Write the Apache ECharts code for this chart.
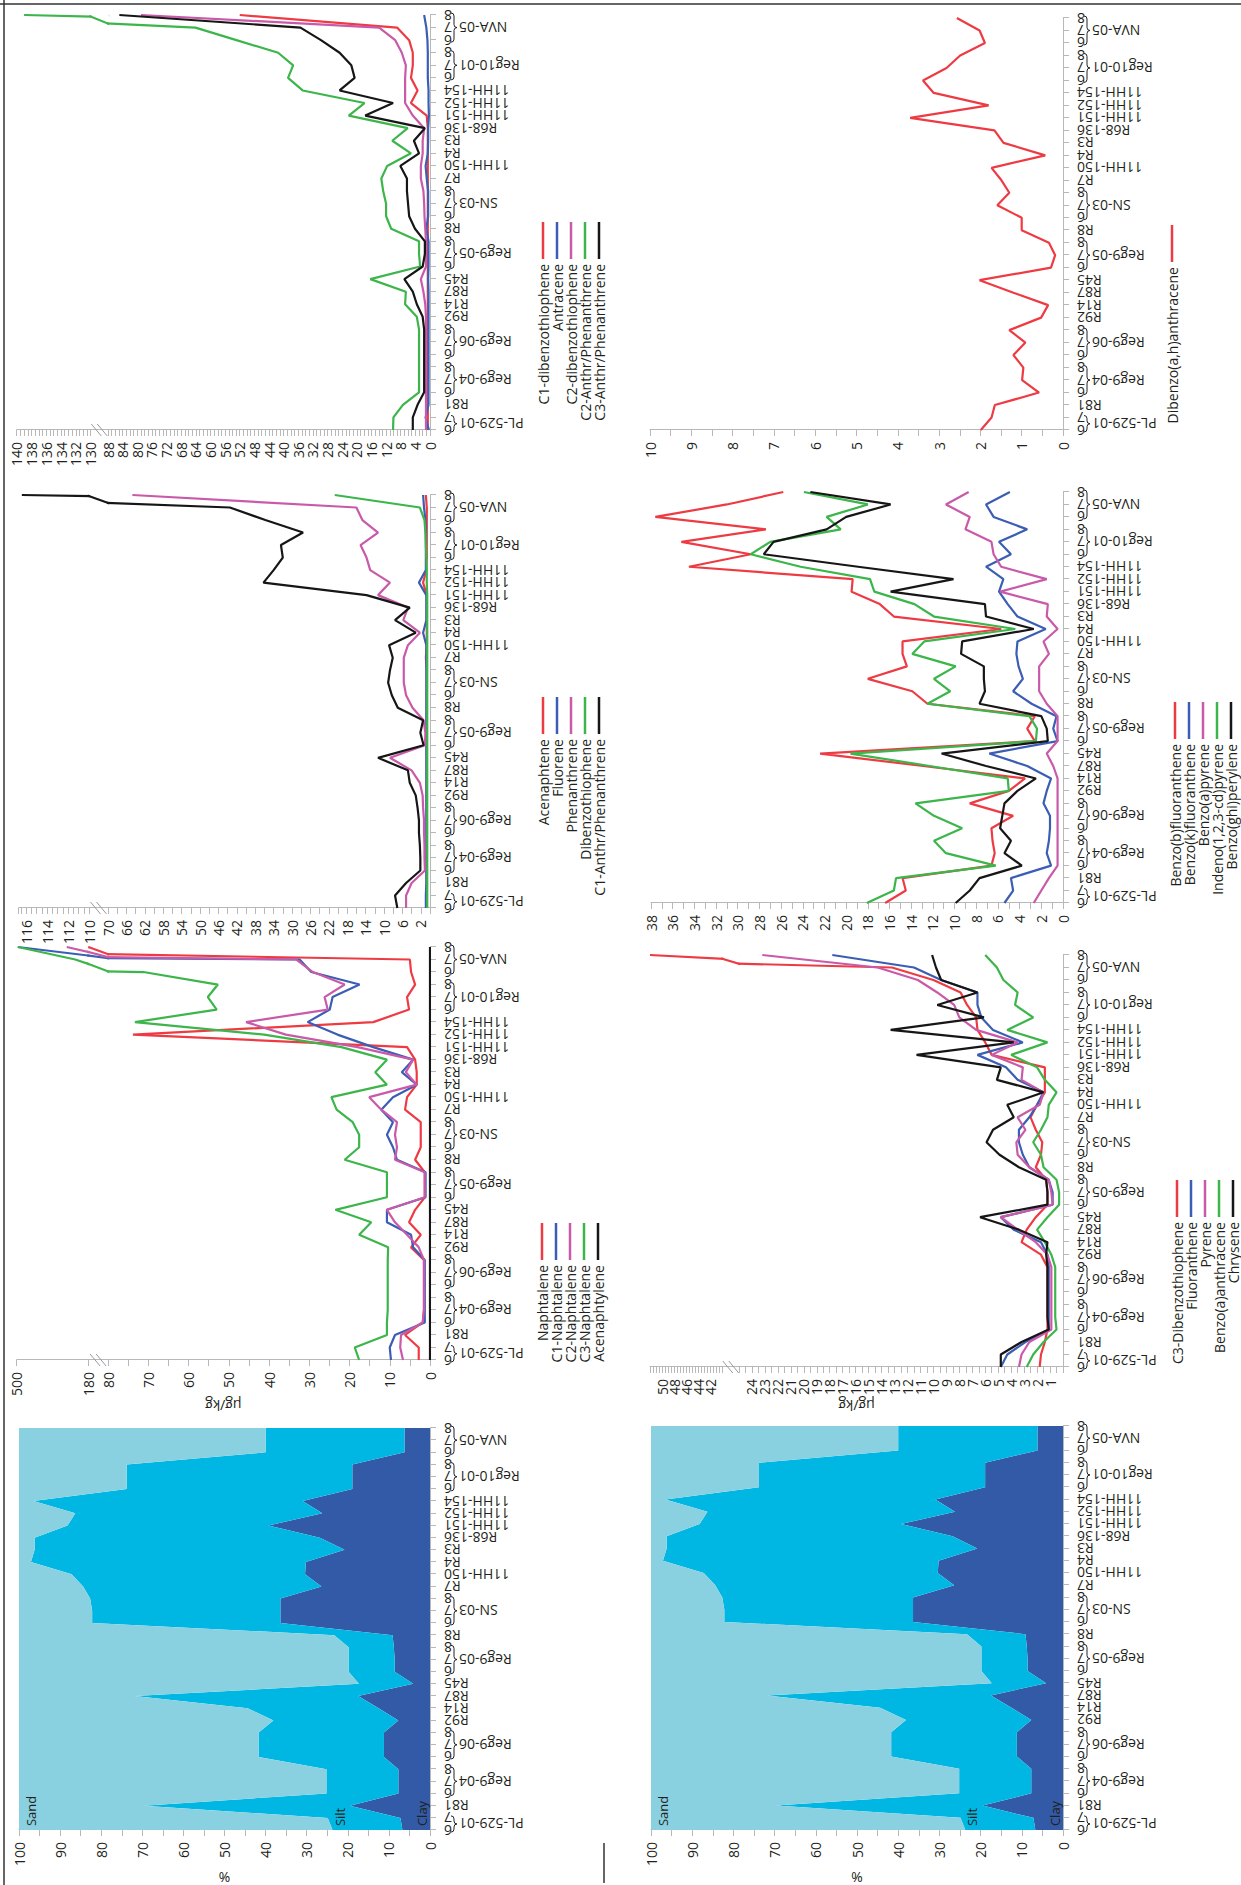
<!DOCTYPE html>
<html>
<head>
<meta charset="utf-8">
<script src="https://cdn.jsdelivr.net/npm/echarts@6/dist/echarts.min.js"></script>
<style>
html, body { margin:0; padding:0; background:#fff; overflow:hidden; }
#wrap { width:1241px; height:1885px; position:relative; overflow:hidden; }
#chart { position:absolute; left:0; top:0; width:1885px; height:1260px;
  transform-origin:0 0; transform:translateY(1885px) rotate(-90deg); }
</style>
</head>
<body>
<div id="wrap"><div id="chart"></div></div>
<script>
// samples along the transect (same for every panel)
const categories = ['6','7','R81','6','7','8','6','7','8','R92','R14','R87','R45','6','7','8','R8',
  '6','7','8','R7','11HH-150','R4','R3','R68-136','11HH-151','11HH-152','11HH-154','6','7','8','6','7','8']
// station groups: first index, last index, name
const groups = [[0,1,'PL-529-01'],[3,5,'Reg9-04'],[6,8,'Reg9-06'],[13,15,'Reg9-05'],[17,19,'SN-03'],[28,30,'Reg10-01'],[31,33,'NVA-05']]

// grain size (%)
const clay = [6.7,7.2,19.5,7.7,7.7,7.7,11.2,11.2,11.2,7.7,12.5,17.5,4.1,8.6,8.6,8.8,9.1,36.4,36.4,36.4,26.4,30.4,30.2,20.8,26.8,39.3,26.2,31.0,18.9,18.9,18.9,6.2,6.2,6.2]
const silt = [17.0,17.7,50.2,17.5,17.5,17.5,30.5,30.5,30.5,30.4,31.9,54.4,13.2,11.2,11.2,11.0,14.2,45.8,45.8,46.3,58.0,56.8,66.9,75.4,69.4,48.9,60.1,65.5,54.9,54.9,54.9,33.8,33.8,33.8]
const sand = [76.3,75.1,30.3,74.8,74.8,74.8,58.3,58.3,58.3,61.9,55.6,28.1,82.7,80.2,80.2,80.2,76.7,17.8,17.8,17.3,15.6,12.8,2.9,3.8,3.8,11.8,13.7,3.5,26.2,26.2,26.2,60.0,60.0,60.0]

// ug/kg
const naphtalene = [2.8,2.8,6.2,1.8,1.5,1.5,1.5,1.5,1.5,4.7,2.3,5.2,3.7,1.3,1.3,1.3,3.7,2.3,2.3,2.3,6.2,5.7,3.3,3.3,3.7,5.7,73.8,14.1,5.2,5.7,3.7,4.7,5.0,179]
const c1Naphtalene = [9.7,10.0,8.7,1.3,1.3,1.3,1.3,1.3,1.3,4.2,4.7,10.7,10.7,1.1,1.1,1.1,8.2,9.2,10.7,9.2,12.1,9.2,3.3,7.0,4.2,14.1,23.0,30.4,24.9,24.2,17.5,29.5,32.4,495]
const c2Naphtalene = [6.7,7.4,7.2,1.8,1.5,1.5,1.5,1.5,1.5,2.8,5.7,8.7,10.7,1.3,1.3,1.3,8.7,8.2,8.7,8.2,12.1,15.1,3.3,6.0,4.2,18.0,35.8,45.7,25.4,26.2,21.2,29.1,33.2,276]
const c3Naphtalene = [17.6,18.7,10.7,10.7,10.5,10.5,10.5,10.5,10.5,10.4,17.6,14.6,23.5,10.7,10.7,10.7,21.2,17.6,17.6,19.2,23.2,24.5,10.7,13.6,10.7,22.0,41.2,73.3,53.0,55.2,52.7,71.2,238,495]
const acenaphtylene = [0,0,0,0,0,0,0,0,0,0,0,0,0,0,0,0,0,0,0,0,0,0,0,0,0,0,0,0,0,0,0,0,0,0]

const acenaphtene = [0.7,0.7,0.7,0.7,0.7,0.7,0.7,0.7,0.7,0.7,0.7,0.7,0.7,0.7,0.7,0.7,0.7,0.7,0.7,0.7,0.9,0.7,0.7,0.7,0.7,0.7,1.5,0.8,0.7,0.7,0.7,0.7,0.7,0.9]
const fluorene = [0.9,0.9,0.8,0.8,0.8,0.8,0.8,0.8,0.8,0.8,0.8,0.8,0.8,0.8,0.8,0.8,0.8,0.8,0.8,0.8,0.8,0.8,1.5,0.8,0.8,0.8,2.4,0.9,0.9,0.9,0.9,1.0,1.3,1.5]
const phenanthrene = [5.2,5.2,4.0,1.1,1.2,1.2,1.3,1.3,1.5,1.6,2.2,4.0,8.7,1.1,1.0,1.4,3.8,5.2,5.7,5.7,5.7,4.8,2.2,5.8,4.8,11.3,8.7,13.0,13.8,15.1,11.3,14.7,16.0,64.7]
const dibenzothiophene = [0.6,0.6,0.6,0.6,0.6,0.6,0.6,0.6,0.6,0.6,0.6,0.6,0.6,0.6,0.6,0.6,0.6,0.6,0.6,0.6,0.6,0.6,0.6,0.6,0.6,0.6,0.7,0.7,0.8,0.9,1.0,1.2,2.2,20.7]
const c1AnthrPhen = [7.1,7.6,5.2,2.1,2.1,2.2,2.4,2.4,2.7,3.1,4.4,4.8,11.3,1.4,2.1,1.5,7.0,8.3,9.1,8.7,8.1,8.9,3.1,7.6,4.4,13.8,36.2,34.0,32.0,32.4,27.6,35.8,43.5,116.4]

const c1Dbt = [0.6,0.6,0.6,0.6,0.6,0.6,0.6,0.6,0.6,0.6,0.6,0.6,0.6,0.6,0.6,0.6,0.6,0.6,0.6,0.6,0.6,0.6,0.6,0.6,0.6,0.9,5.2,3.4,5.2,4.7,4.7,5.7,9.0,52]
const antracene = [0.3,1.2,0.4,0.4,0.4,0.4,0.4,0.4,0.4,0.4,0.4,0.4,0.5,0.4,0.4,0.4,1.0,0.5,0.5,0.5,0.9,1.2,0.6,0.5,0.5,0.3,0.4,0.4,0.6,0.6,0.6,0.7,1.0,1.6]
const c2Dbt = [1.1,1.1,1.1,1.1,1.1,1.1,1.1,1.1,1.1,1.1,1.3,1.8,2.5,1.1,1.1,1.1,1.3,1.5,1.6,1.8,2.5,2.5,2.0,2.0,1.6,4.7,6.8,6.8,6.8,6.6,7.7,9.5,13.9,79]
const c2AnthrPhen = [10.1,10.0,7.4,3.0,3.0,3.0,3.0,3.0,3.0,3.6,6.8,6.6,16.3,2.7,3.0,3.0,10.6,12.0,12.0,12.8,13.3,11.7,5.2,10.3,6.1,22.2,17.9,34.8,38.8,37.4,41.5,52.9,64.1,139]
const c3AnthrPhen = [4.7,4.7,3.4,1.6,1.6,1.6,1.6,1.6,1.6,2.0,3.6,4.7,7.0,2.0,1.4,1.4,4.1,5.7,6.0,6.3,6.3,8.1,3.0,4.4,1.4,17.7,10.1,24.7,20.6,21.5,24.7,29.8,35.4,84.9]

const dibenzoAhAnthracene = [1.99,1.73,1.65,0.58,0.99,0.96,1.2,0.91,1.3,0.53,0.36,1.2,2.02,0.29,0.19,0.34,1.0,1.0,1.59,1.3,1.49,1.73,0.43,1.44,1.66,3.7,1.8,3.13,3.39,2.82,2.49,1.89,2.02,2.57]

const benzoBFluoranthene = [16.4,14.5,14.8,6.6,6.3,6.5,6.6,4.6,8.6,5.0,3.5,12.9,22.4,2.6,3.3,2.6,12.5,13.9,18.0,14.4,14.8,14.8,5.7,15.6,16.9,19.5,19.4,34.5,28.8,35.2,27.4,37.6,31.0,25.8]
const benzoKFluoranthene = [5.4,4.6,4.8,1.1,1.5,1.3,1.2,1.2,1.8,1.5,1.1,3.3,6.8,0.5,0.9,0.6,2.9,4.6,3.7,4.1,4.3,4.2,1.6,4.2,5.1,5.9,5.5,7.1,4.8,5.9,3.3,6.4,7.1,4.9]
const benzoAPyrene = [2.7,2.0,1.3,0.5,0.5,0.5,0.5,0.5,0.5,0.5,0.5,0.9,1.5,0.5,0.5,0.5,1.5,2.2,2.2,2.2,1.3,1.8,0.5,1.5,1.4,5.8,1.5,5.7,6.4,6.6,9.0,8.6,10.8,8.7]
const indenoPyrene = [18.1,15.6,15.4,6.2,10.8,11.9,9.3,11.9,13.6,5.0,5.1,12.3,19.6,2.5,2.4,3.1,12.5,10.4,11.9,9.9,13.9,12.8,4.4,11.9,13.7,17.4,17.8,24.2,28.8,27.0,20.5,21.8,18.0,23.9]
const benzoGhiPerylene = [9.9,8.6,7.7,3.8,5.4,4.8,5.8,5.6,5.4,4.2,2.5,7.1,11.2,1.4,1.5,2.0,7.7,7.2,7.3,7.3,9.4,9.3,2.7,7.1,7.2,15.9,10.1,18.9,27.6,26.7,21.8,20.0,15.9,23.3]

const c3Dbt = [1.8,1.7,1.4,1.2,1.2,1.2,1.2,1.2,1.2,1.7,3.2,2.8,2.1,1.2,1.2,1.3,2.1,1.7,1.6,2.1,2.5,2.0,1.4,1.4,1.4,5.5,6.0,6.6,6.7,7.4,7.9,10.0,13.2,52]
const fluoranthene = [4.8,4.3,2.9,1.1,1.1,1.1,1.1,1.1,1.1,1.2,1.7,3.8,4.8,0.8,0.8,1.1,2.6,3.1,3.4,3.4,2.6,2.0,1.5,3.5,4.4,6.6,3.1,5.4,6.3,6.6,6.6,9.4,11.5,17.8]
const pyrene = [3.4,3.2,2.6,0.9,0.9,0.9,0.9,0.9,0.9,1.2,2.1,3.5,4.8,0.8,0.9,1.1,2.6,3.5,3.6,2.9,3.5,1.8,1.5,3.2,3.1,5.5,3.5,6.7,8.0,8.4,9.7,11.2,14.3,23.2]
const benzoAAnthracene = [2.8,2.3,1.5,0.5,0.6,0.6,0.6,0.6,0.6,0.9,1.4,2.0,1.2,0.3,0.3,0.5,1.5,1.7,2.3,1.7,1.2,1.1,0.5,1.4,2.0,4.0,1.2,4.3,2.3,3.7,3.5,4.6,5.1,6.0]
const chrysene = [4.8,4.8,3.2,1.1,1.2,1.2,1.2,1.2,1.2,1.3,1.2,3.4,6.4,1.2,1.2,1.3,3.4,4.9,5.9,5.4,3.8,4.3,1.5,5.1,4.8,11.3,3.8,13.3,6.1,9.7,6.6,9.4,9.8,10.1]

const FONT = "'Open Sans', 'DejaVu Sans', sans-serif"
const TXT = '#231f20'
const AXC = '#b8b8b8'
const RED = '#ee3b43', BLUE = '#3b5eb4', PINK = '#c95aa9', GREEN = '#3cb54a', BLACK = '#161616'
const SAND = '#89d1e1', SILT = '#00b7e3', CLAY = '#335aa7'
const LAST = categories.length - 1

const opt = {
  animation: false,
  textStyle: {fontFamily: FONT},
  grid: [], xAxis: [], yAxis: [], series: [], legend: [],
  graphic: [
    {type:'line', shape:{x1:0, y1:4, x2:1885, y2:4}, style:{stroke:'#333', lineWidth:1.5}},
    {type:'line', shape:{x1:1881, y1:0, x2:1881, y2:1241}, style:{stroke:'#333', lineWidth:1.5}},
    {type:'line', shape:{x1:2, y1:604, x2:42, y2:604}, style:{stroke:'#333', lineWidth:1.5}}
  ]
}

function catAxis(gi){
  return {
    type:'category', gridIndex:gi, data:categories, boundaryGap:false,
    axisLine:{lineStyle:{color:AXC, width:1}},
    axisTick:{interval:0, length:6, lineStyle:{color:AXC}},
    axisLabel:{interval:0, rotate:90, margin:14, fontSize:14, color:TXT, fontFamily:FONT}
  }
}
function valAxis(min, max, interval, minor, extra){
  return gi => Object.assign({
    type:'value', gridIndex:gi, min:min, max:max, interval:interval,
    axisLine:{show:true, lineStyle:{color:AXC, width:1}},
    axisTick:{show:true, length:6, lineStyle:{color:AXC}},
    minorTick:{show:!!minor, splitNumber:minor || 2, length:6, lineStyle:{color:AXC}},
    splitLine:{show:false},
    axisLabel:{fontSize:14, color:TXT, margin:12, fontFamily:FONT}
  }, extra || {})
}
function gapAxis(min, max){
  return gi => ({type:'value', gridIndex:gi, min:min, max:max,
    axisLine:{show:true, lineStyle:{color:AXC, width:1}},
    axisTick:{show:false}, axisLabel:{show:false}, splitLine:{show:false}})
}
function hiddenAxis(min, max){
  return gi => ({type:'value', gridIndex:gi, min:min, max:max, show:false, splitLine:{show:false}})
}
function nameAxis(name, gap){
  return gi => ({type:'value', gridIndex:gi, min:0, max:1,
    axisLine:{show:false}, axisTick:{show:false}, axisLabel:{show:false}, splitLine:{show:false},
    name:name, nameLocation:'middle', nameGap:gap,
    nameTextStyle:{fontSize:14, color:TXT, fontFamily:FONT}})
}
// one grid with its own x and y axis, so all three indices match
function cell(rect, withX, yFn, xMin){
  const gi = opt.grid.length
  opt.grid.push({left:rect[0], top:rect[1], width:rect[2], height:rect[3]})
  if (withX) opt.xAxis.push(catAxis(gi))
  else opt.xAxis.push({type:'category', gridIndex:gi, data:categories, boundaryGap:false, show:false,
    min: xMin == null ? null : xMin, max: xMin == null ? null : LAST})
  opt.yAxis.push(yFn(gi))
  return gi
}
function addLines(gi, list){
  list.forEach(s => opt.series.push({
    type:'line', name:s[0], data:s[1], xAxisIndex:gi, yAxisIndex:gi,
    symbol:'none', showSymbol:false, clip:true, silent:true,
    lineStyle:{color:s[2], width:2.2}, itemStyle:{color:s[2]}
  }))
}
function braces(gi){
  opt.series.push({
    type:'custom', xAxisIndex:gi, yAxisIndex:gi, silent:true, clip:false, z:10,
    data: groups.map(g => [g[0], g[1]]),
    renderItem: function(params, api){
      const s = api.coord([api.value(0), 0])
      const e = api.coord([api.value(1), 0])
      const y = s[1] + 21, h = 6, r = 3
      const x0 = s[0] - 2, x1 = e[0] + 2, xm = (x0 + x1) / 2, ym = y + h / 2
      const d = 'M' + x0 + ',' + y + ' Q' + x0 + ',' + ym + ' ' + (x0 + r) + ',' + ym +
        ' L' + (xm - r) + ',' + ym + ' Q' + xm + ',' + ym + ' ' + xm + ',' + (y + h) +
        ' Q' + xm + ',' + ym + ' ' + (xm + r) + ',' + ym + ' L' + (x1 - r) + ',' + ym +
        ' Q' + x1 + ',' + ym + ' ' + x1 + ',' + y
      return {type:'group', children:[
        {type:'path', shape:{pathData:d}, style:{fill:'none', stroke:TXT, lineWidth:1}},
        {type:'text', x:xm, y:y + h + 2, rotation:Math.PI / 2,
          style:{text:groups[params.dataIndex][2], align:'right', verticalAlign:'middle',
            fontSize:14, fontFamily:FONT, fill:TXT}}
      ]}
    }
  })
}
function breakMark(gi, mid){
  opt.series.push({
    type:'custom', xAxisIndex:gi, yAxisIndex:gi, silent:true, clip:false, z:10,
    data:[[0, mid]],
    renderItem: function(params, api){
      const p = api.coord([0, api.value(1)])
      return {type:'group', children:[-3, 3].map(dd => ({type:'line',
        shape:{x1:p[0] - 6, y1:p[1] + 5 + dd, x2:p[0] + 6, y2:p[1] - 5 + dd},
        style:{stroke:'#9a9a9a', lineWidth:1}}))}
    }
  })
}
function legend(names, right, top){
  opt.legend.push({
    data:names, orient:'vertical', align:'right', right:right, top:top, padding:0,
    itemGap:0, itemWidth:37, itemHeight:2.5, icon:'rect', selectedMode:false,
    textStyle:{fontSize:14, lineHeight:13, color:TXT, fontFamily:FONT}
  })
}
// value axis cut in two: lower part, narrow gap with a // mark, upper part
// series copies in the gap/upper parts only cover the last samples, where the lines cross the cut
function brokenPanel(left, width, yBase, yLow, yGap, yTop, lowAx, gapRange, upAx, upRange, from, set){
  let g = cell([left, yLow, width, yBase - yLow], true, lowAx); addLines(g, set); braces(g)
  g = cell([left, yGap, width, yLow - yGap], false, gapAxis(gapRange[0], gapRange[1]))
  breakMark(g, (gapRange[0] + gapRange[1]) / 2)
  cell([left, yTop, width, yGap - yTop], false, upAx)
  const step = width / LAST, wl = left + from * step, ww = width - from * step
  g = cell([wl, yGap, ww, yLow - yGap], false, hiddenAxis(gapRange[0], gapRange[1]), from); addLines(g, set)
  g = cell([wl, yTop, ww, yGap - yTop], false, hiddenAxis(upRange[0], upRange[1]), from); addLines(g, set)
}
function grainPanel(rect, key){
  const gi = cell(rect, true, valAxis(0, 100, 10, 2, {name:'%', nameLocation:'middle', nameGap:32,
    nameTextStyle:{fontSize:14, color:TXT, fontFamily:FONT}}))
  ;[['Clay', clay, CLAY], ['Silt', silt, SILT], ['Sand', sand, SAND]].forEach(s => opt.series.push({
    type:'line', name:s[0], data:s[1], stack:key, xAxisIndex:gi, yAxisIndex:gi,
    symbol:'none', showSymbol:false, silent:true, lineStyle:{width:0},
    areaStyle:{color:s[2], opacity:1}, itemStyle:{color:s[2]}
  }))
  const names = ['Sand', 'Silt', 'Clay'], at = [97, 22, 2]
  opt.series.push({
    type:'custom', xAxisIndex:gi, yAxisIndex:gi, silent:true, clip:false, z:10,
    data: at.map(v => [0, v]),
    renderItem: function(params, api){
      const p = api.coord([0, api.value(1)])
      return {type:'text', x:p[0] + 4, y:p[1],
        style:{text:names[params.dataIndex], align:'left', verticalAlign:'middle', fontSize:13, fontFamily:FONT, fill:TXT}}
    }
  })
  braces(gi)
}
const lbl = f => ({axisLabel:{fontSize:14, color:TXT, margin:12, fontFamily:FONT, formatter:f}})

// ---- top row (value 0 at y=430) ----
grainPanel([46, 19, 411, 411], 'grainTop')

const naphSet = [['Naphtalene', naphtalene, RED], ['C1-Naphtalene', c1Naphtalene, BLUE],
  ['C2-Naphtalene', c2Naphtalene, PINK], ['C3-Naphtalene', c3Naphtalene, GREEN], ['Acenaphtylene', acenaphtylene, BLACK]]
brokenPanel(525, 413, 430, 108, 88.2, 16.7, valAxis(0, 80, 10, 2), [80, 180],
  valAxis(180, 500, 320, 0), [180, 500], 31, naphSet)
cell([525, 16.7, 413, 413.3], false, nameAxis('µg/kg', 38))
legend(naphSet.map(s => s[0]), 1223, 535)

const aceSet = [['Acenaphtene', acenaphtene, RED], ['Fluorene', fluorene, BLUE], ['Phenanthrene', phenanthrene, PINK],
  ['Dibenzothiophene', dibenzothiophene, GREEN], ['C1-Anthr/Phenanthrene', c1AnthrPhen, BLACK]]
brokenPanel(977, 413, 430, 108, 89, 18.7, valAxis(0, 70, 2, 0, lbl(v => (v % 4 === 2 ? String(v) : ''))), [70, 110],
  valAxis(110, 116.7, 2, 4, lbl(v => (Number.isInteger(v) ? String(v) : ''))), [110, 116.7], 32, aceSet)
legend(aceSet.map(s => s[0]), 697, 536)

const dbtSet = [['C1-dibenzothiophene', c1Dbt, RED], ['Antracene', antracene, BLUE], ['C2-dibenzothiophene', c2Dbt, PINK],
  ['C2-Anthr/Phenanthrene', c2AnthrPhen, GREEN], ['C3-Anthr/Phenanthrene', c3AnthrPhen, BLACK]]
brokenPanel(1455, 415, 430, 108, 90.6, 16.7, valAxis(0, 88, 4, 4), [88, 130],
  valAxis(130, 140, 2, 4), [130, 140], 32, dbtSet)
legend(dbtSet.map(s => s[0]), 222, 536)

// ---- bottom row (value 0 at y=1063) ----
grainPanel([48, 651, 411, 412], 'grainBottom')

const c3Set = [['C3-Dibenzothiophene', c3Dbt, RED], ['Fluoranthene', fluoranthene, BLUE], ['Pyrene', pyrene, PINK],
  ['Benzo(a)anthracene', benzoAAnthracene, GREEN], ['Chrysene', chrysene, BLACK]]
brokenPanel(518, 412, 1063, 739, 722.5, 650, valAxis(0, 25, 1, 2), [25, 40],
  valAxis(40, 52, 2, 4), [40, 52], 32, c3Set)
cell([518, 650, 412, 413], false, nameAxis('µg/kg', 31))
legend(c3Set.map(s => s[0]), 1180, 1170)

const bbfSet = [['Benzo(b)fluoranthene', benzoBFluoranthene, RED], ['Benzo(k)fluoranthene', benzoKFluoranthene, BLUE],
  ['Benzo(a)pyrene', benzoAPyrene, PINK], ['Indeno(1,2,3-cd)pyrene', indenoPyrene, GREEN], ['Benzo(ghi)perylene', benzoGhiPerylene, BLACK]]
let g = cell([982, 651, 411, 412], true, valAxis(0, 38, 2, 2)); addLines(g, bbfSet); braces(g)
legend(bbfSet.map(s => s[0]), 702, 1168)

const dahSet = [['Dibenzo(a,h)anthracene', dibenzoAhAnthracene, RED]]
g = cell([1455, 650, 412, 413], true, valAxis(0, 10, 1, 2)); addLines(g, dahSet); braces(g)
legend(dahSet.map(s => s[0]), 225, 1165)

const chart = echarts.init(document.getElementById('chart'), null, {renderer:'svg', width:1885, height:1260})
chart.setOption(opt)
</script>
</body>
</html>
